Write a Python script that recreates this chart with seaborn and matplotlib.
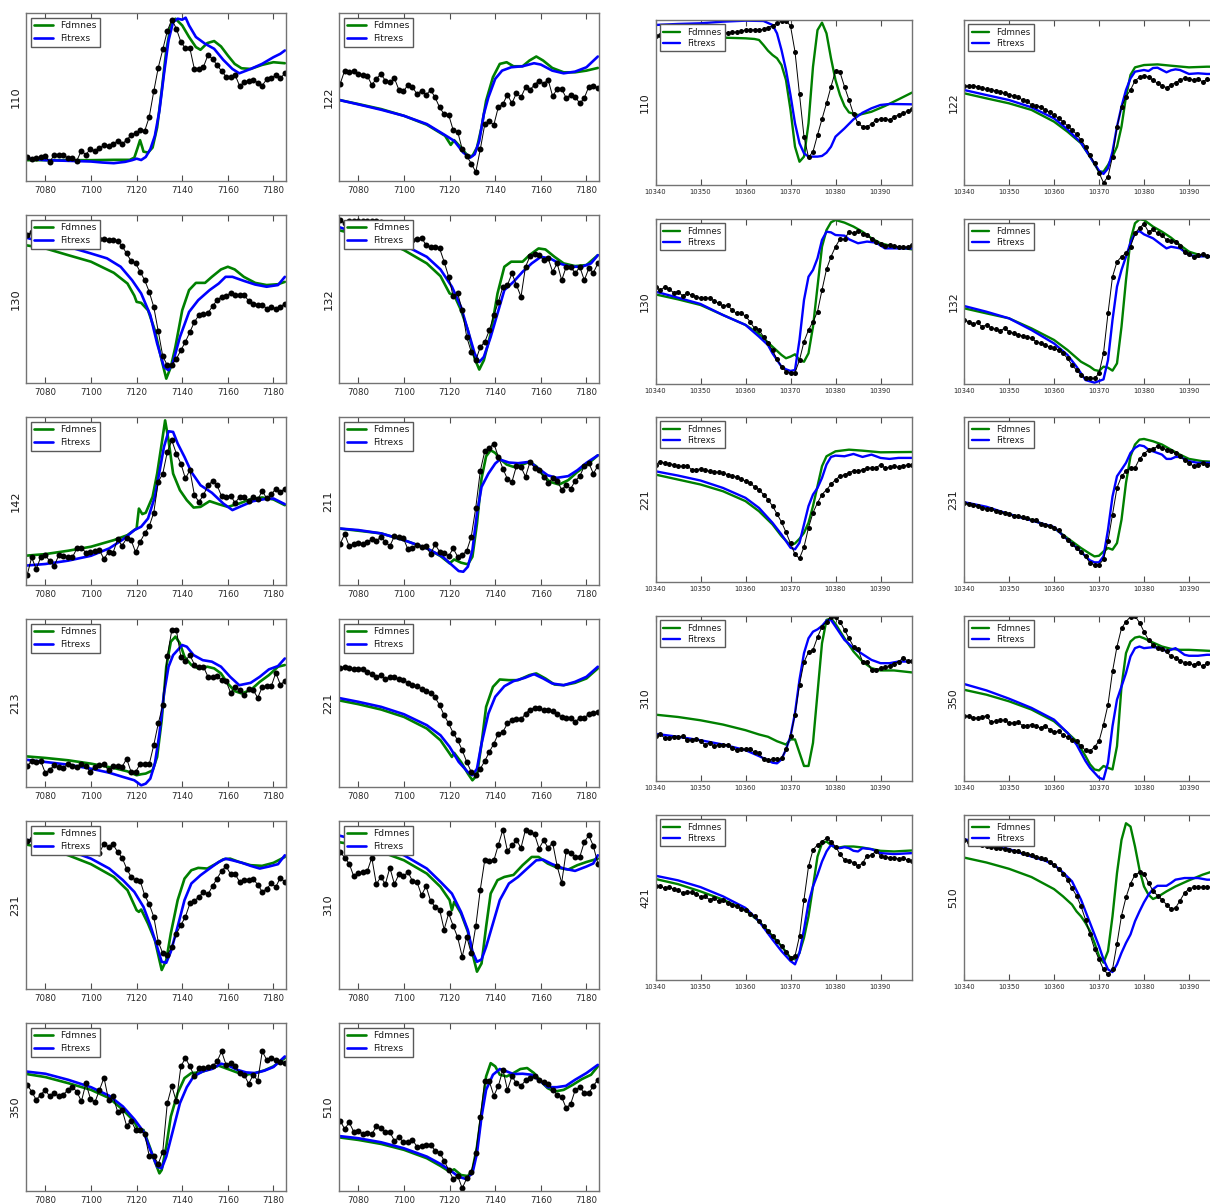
import numpy as np
import matplotlib
matplotlib.use("Agg")
import matplotlib.pyplot as plt
import seaborn as sns

# ---------------------------------------------------------------- data
# y values are in per cent of each panel's height (y axis carries no scale)

# ----- Fe K-edge panels (energy 7072 .. 7185 eV)
L110_EXP = [14.4, 12.8, 13.8, 14.2, 14.8, 11.4, 15.6, 15.6, 15.6, 13.6, 13.8, 12.2, 18.1, 15.6, 19.3, 17.6, 19.5, 21.3, 20.7, 22.3,
            23.7, 22.1, 24.3, 27.4, 28.6, 30.2, 29.8, 38.1, 53.3, 67.5, 78.3, 89.3, 96.1, 90.7, 82.8, 78.9, 78.9, 66.5, 66.7, 68.0,
            75.0, 72.6, 69.0, 65.5, 62.1, 62.1, 63.1, 56.6, 58.8, 59.8, 60.0, 58.6, 56.8, 60.7, 61.1, 63.1, 61.1, 64.1]
L110_FD = [(7071, 12.4), (7080, 12.4), (7100, 12.4), (7110, 12.6), (7117, 12.6), (7119, 13.9), (7120.5, 20), (7121.5, 24.3),
           (7122.5, 20), (7123, 17.5), (7125, 16.9), (7127, 19.9), (7129, 31.9), (7131, 53.8), (7133, 77.7), (7135, 92.6),
           (7137, 96.6), (7140, 92.6), (7143, 85.7), (7146, 79.7), (7148, 78.1), (7151, 82.1), (7154, 83.3), (7157, 80.1),
           (7160, 74.7), (7163, 69.7), (7166, 67.1), (7170, 66.7), (7175, 69.1), (7180, 70.7), (7185, 70.1)]
L110_FX = [(7071, 13.5), (7080, 12.4), (7090, 12.0), (7100, 11.6), (7105, 11.0), (7110, 10.6), (7115, 11.4), (7118, 12.4),
           (7120, 13.3), (7122, 12.5), (7124, 14.3), (7126, 18.9), (7128, 26.9), (7130, 41.8), (7132, 63.7), (7134, 83.7),
           (7136, 94.6), (7138, 96.6), (7140, 96.0), (7141.5, 97.2), (7143, 92.6), (7146, 85.7), (7150, 81.7), (7154, 78.7),
           (7158, 72.1), (7162, 66.7), (7165, 64.1), (7170, 66.7), (7175, 69.7), (7180, 73.7), (7183, 75.7), (7185, 77.7)]

L122_EXP = [57.8, 65.7, 64.7, 65.3, 63.7, 63.1, 62.7, 57.2, 60.8, 63.7, 59.8, 58.8, 61.2, 54.2, 53.4, 57.2, 55.8, 51.8, 53.8, 51.2,
            54.2, 49.8, 43.8, 39.8, 39.4, 30.3, 29.3, 18.9, 14.9, 10.4, 5.4, 18.9, 33.9, 35.5, 33.5, 44.2, 45.8, 51.4, 46.2, 52.4,
            49.8, 55.8, 54.4, 57.2, 59.8, 57.8, 60.4, 50.4, 54.8, 54.8, 49.4, 51.4, 50.2, 46.2, 49.4, 56.2, 56.8, 55.4]
L122_FD = [(7071, 48.4), (7080, 45.8), (7090, 42.8), (7100, 38.8), (7110, 33.5), (7118, 26.9), (7120.5, 21.5), (7122, 24.3),
           (7125, 19.9), (7128, 14.9), (7130, 14.9), (7132, 19.9), (7134, 31.9), (7136, 47.8), (7139, 61.8), (7142, 69.7),
           (7145, 70.7), (7148, 68.3), (7152, 68.3), (7155, 71.7), (7158, 74.1), (7161, 71.7), (7165, 67.3), (7170, 64.7),
           (7175, 64.7), (7180, 65.7), (7185, 67.3)]
L122_FX = [(7071, 48.4), (7080, 45.6), (7090, 42.4), (7100, 38.8), (7110, 33.9), (7118, 27.3), (7122, 23.9), (7126, 16.9),
           (7129, 13.9), (7131, 15.9), (7133, 23.9), (7135, 39.8), (7137, 49.8), (7140, 60.8), (7143, 65.7), (7147, 67.7),
           (7152, 68.3), (7157, 70.1), (7160, 69.3), (7165, 65.7), (7170, 64.1), (7175, 65.1), (7180, 67.7), (7185, 74.1)]

L130_EXP = [88.1, 89.7, 87.1, 85.7, 85.7, 85.7, 85.7, 85.7, 85.7, 85.7, 85.7, 85.7, 85.7, 85.7, 85.7, 85.7, 85.5, 85.5, 85.3, 85.1,
            84.5, 81.5, 77.1, 72.6, 71.2, 66.2, 61.2, 54.3, 45.3, 30.8, 15.9, 10.5, 10.9, 14.3, 19.5, 24.5, 30.4, 36.4, 40.4, 41.0,
            41.7, 45.7, 49.3, 51.3, 51.7, 53.7, 52.3, 52.3, 52.3, 48.9, 47.3, 46.7, 46.7, 44.3, 45.3, 44.3, 45.3, 47.3]
L130_FD = [(7071, 82.1), (7080, 80.1), (7090, 76.1), (7100, 72.2), (7110, 65.6), (7116, 59.2), (7119, 52), (7120, 48.3),
           (7122, 47.7), (7125, 43.3), (7128, 31.4), (7131, 13.5), (7133, 2.6), (7135, 9.5), (7137, 21.5), (7140, 43.3),
           (7143, 55.3), (7146, 59.6), (7150, 59.6), (7153, 63.2), (7157, 67.6), (7160, 69.2), (7163, 67.6), (7167, 63.2),
           (7172, 59.6), (7177, 58.3), (7182, 58.8), (7185, 60.2)]
L130_FX = [(7071, 86.7), (7080, 83.5), (7090, 81.1), (7100, 77.1), (7107, 74.2), (7113, 69.2), (7118, 61.2), (7122, 53.3),
           (7126, 40.4), (7129, 23.5), (7132, 9.5), (7134, 7.6), (7136, 12.5), (7139, 27.4), (7143, 42.3), (7147, 49.3),
           (7152, 55.3), (7156, 59.2), (7159, 63.2), (7162, 63.2), (7167, 60.8), (7172, 58.6), (7177, 57.3), (7182, 58.3),
           (7185, 63.2)]

L132_EXP = [97.0, 95.0, 96.6, 96.4, 96.4, 96.4, 96.4, 96.4, 96.4, 96.0, 95.5, 95.0, 94.0, 92.0, 88.0, 84.7, 85.1, 85.5, 86.5, 82.1,
            81.1, 81.1, 80.1, 72.2, 63.2, 51.7, 53.3, 43.3, 27.4, 18.5, 13.5, 21.5, 24.5, 31.4, 40.4, 48.3, 57.3, 58.3, 65.2, 58.3,
            51.3, 69.2, 75.5, 76.7, 76.1, 73.2, 74.2, 66.2, 71.2, 61.2, 69.2, 69.2, 65.2, 69.2, 61.2, 68.2, 65.6, 71.2]
L132_FD = [(7071, 91.1), (7080, 88.1), (7090, 85.1), (7100, 79.1), (7110, 71.2), (7116, 63.6), (7120, 53.3), (7122, 52.3),
           (7125, 43.3), (7128, 31.4), (7131, 14.5), (7133, 8.0), (7135, 13.5), (7138, 29.4), (7141, 53.3), (7144, 69.2),
           (7147, 72.2), (7152, 72.2), (7155, 76.1), (7159, 80.1), (7162, 79.5), (7166, 75.1), (7170, 71.2), (7175, 69.6),
           (7180, 70.2), (7185, 76.1)]
L132_FX = [(7071, 93.0), (7080, 89.1), (7090, 87.1), (7100, 82.1), (7110, 75.1), (7116, 67.6), (7121, 57.3), (7125, 45.3),
           (7128, 31.4), (7131, 17.5), (7133, 12.5), (7135, 15.5), (7138, 27.4), (7141, 41.4), (7144, 55.3), (7148, 60.2),
           (7152, 66.2), (7156, 71.2), (7160, 75.1), (7164, 74.2), (7168, 71.2), (7173, 69.2), (7178, 69.2), (7182, 71.2),
           (7185, 76.1)]

L142_EXP = [5.9, 16.4, 9.5, 16.4, 17.8, 14.3, 11.5, 17.8, 17.4, 16.4, 16.4, 21.8, 22.2, 19.2, 19.8, 20.4, 20.8, 15.4, 19.8, 19.2,
            27.1, 23.4, 27.7, 26.7, 19.4, 25.7, 30.7, 35.0, 43.0, 61.4, 66.3, 79.2, 86.1, 78.2, 72.3, 63.4, 68.3, 53.5, 49.5, 53.5,
            59.4, 61.8, 59.4, 52.9, 52.5, 53.1, 48.9, 52.5, 52.1, 50.1, 52.5, 50.9, 56.0, 51.5, 53.9, 57.4, 55.4, 57.4]
L142_FD = [(7071, 17.4), (7080, 18.4), (7090, 20.4), (7100, 22.8), (7110, 26.7), (7116, 29.7), (7120, 33.7), (7121, 45.5),
           (7122.5, 42.2), (7124, 43.0), (7127, 52.5), (7129, 66.3), (7131, 84.2), (7132.5, 98.0), (7134, 86.1), (7136, 66.3),
           (7139, 56.4), (7142, 50.5), (7145, 46.1), (7148, 46.5), (7152, 49.9), (7156, 48.1), (7160, 46.5), (7165, 48.5),
           (7170, 51.1), (7175, 52.1), (7180, 50.9), (7185, 47.5)]
L142_FX = [(7071, 11.5), (7080, 12.5), (7090, 14.5), (7100, 17.4), (7108, 21.8), (7114, 27.1), (7119, 32.7), (7122, 34.7),
           (7125, 39.6), (7128, 52.5), (7130, 67.3), (7132, 82.2), (7134, 91.5), (7136, 91.1), (7138, 84.2), (7141, 76.2),
           (7144, 67.3), (7148, 59.4), (7153, 54.9), (7158, 48.5), (7162, 44.6), (7166, 47.0), (7171, 49.9), (7176, 51.1),
           (7180, 51.5), (7185, 48.1)]

L211_EXP = [24.4, 30.3, 23.2, 24.4, 25.2, 24.4, 25.7, 27.1, 26.1, 28.7, 25.7, 23.2, 29.1, 28.7, 27.7, 21.2, 21.8, 23.8, 22.8, 23.2,
            18.4, 24.2, 19.8, 19.2, 17.2, 21.8, 16.8, 17.8, 20.4, 28.7, 46.1, 67.9, 79.8, 81.6, 84.2, 76.2, 69.3, 63.0, 61.4, 70.9,
            70.3, 64.4, 73.3, 69.7, 68.3, 64.4, 61.0, 63.4, 62.0, 56.8, 59.4, 57.4, 62.0, 64.8, 70.7, 72.7, 66.3, 70.9]
L211_FD = [(7071, 33.7), (7080, 32.3), (7090, 30.7), (7100, 26.7), (7110, 21.8), (7116, 17.2), (7120, 12.9), (7122, 15.2),
           (7125, 13.3), (7128, 12.3), (7130, 16.8), (7132, 36.6), (7134, 63.4), (7136, 76.6), (7138, 80.2), (7140, 78.6),
           (7142, 75.2), (7145, 71.7), (7148, 70.3), (7152, 71.7), (7155, 73.3), (7158, 70.7), (7161, 65.3), (7164, 61.4),
           (7168, 59.8), (7172, 62.4), (7176, 67.3), (7180, 71.3), (7185, 77.2)]
L211_FX = [(7071, 33.7), (7080, 32.7), (7090, 30.7), (7100, 26.7), (7110, 21.8), (7117, 16.8), (7121, 11.9), (7124, 8.3),
           (7126, 7.9), (7128, 10.9), (7130, 20.8), (7132, 42.6), (7134, 58.4), (7137, 66.3), (7140, 72.3), (7142, 74.7),
           (7146, 72.9), (7150, 72.5), (7155, 73.3), (7159, 69.3), (7163, 65.3), (7167, 63.8), (7172, 64.8), (7176, 68.3),
           (7180, 72.7), (7185, 77.2)]

L213_EXP = [12.5, 15.5, 14.9, 15.5, 8.5, 10.3, 12.9, 11.9, 11.5, 13.5, 12.5, 11.9, 13.9, 12.5, 8.9, 11.9, 12.9, 13.5, 9.9, 12.3,
            12.3, 11.9, 16.9, 8.9, 8.9, 13.9, 13.9, 13.5, 24.9, 37.8, 48.7, 77.9, 93.4, 93.4, 77.5, 75.1, 78.5, 72.9, 71.6, 71.6,
            65.6, 65.6, 66.2, 63.6, 63.0, 56.1, 59.6, 57.7, 54.7, 58.1, 57.7, 53.1, 59.6, 60.0, 60.0, 68.0, 61.0, 63.0]
L213_FD = [(7071, 18.3), (7080, 17.3), (7090, 15.9), (7100, 13.9), (7110, 11.3), (7116, 9.3), (7120, 7.0), (7122, 7.6),
           (7124, 8.0), (7127, 9.9), (7129, 17.9), (7131, 39.8), (7133, 71.6), (7135, 86.5), (7137, 89.5), (7139, 85.5),
           (7141, 77.5), (7144, 72.6), (7147, 70.6), (7151, 71.6), (7154, 70.6), (7157, 67.6), (7160, 61.6), (7163, 57.1),
           (7166, 55.7), (7170, 57.7), (7174, 62.6), (7178, 66.6), (7182, 71.6), (7185, 72.6)]
L213_FX = [(7071, 16.3), (7080, 14.9), (7090, 13.3), (7100, 10.9), (7108, 8.5), (7114, 6.0), (7119, 4.0), (7122, 1.0),
           (7124, 2.0), (7126, 5.0), (7128, 13.9), (7130, 31.8), (7132, 55.7), (7134, 71.6), (7136, 78.5), (7138, 81.5),
           (7140, 84.5), (7142, 83.5), (7145, 78.5), (7149, 75.5), (7153, 74.6), (7157, 71.6), (7161, 65.6), (7165, 60.6),
           (7170, 62.0), (7174, 65.6), (7178, 70.0), (7182, 72.0), (7185, 76.5)]

L221_EXP = [70.6, 71.6, 70.6, 70.0, 70.0, 70.0, 68.6, 67.0, 65.6, 66.6, 64.0, 65.6, 65.6, 64.0, 63.6, 62.0, 60.6, 60.0, 58.6, 57.3,
            55.7, 53.3, 48.7, 42.7, 37.8, 32.2, 27.8, 21.9, 14.9, 8.9, 7.0, 10.9, 15.5, 20.9, 25.8, 31.8, 32.8, 37.8, 39.8, 40.2,
            40.2, 43.7, 46.1, 47.3, 47.3, 45.7, 46.1, 45.3, 43.7, 41.7, 40.8, 40.8, 38.8, 41.2, 40.8, 43.7, 44.3, 44.7]
L221_FD = [(7071, 51.7), (7080, 49.3), (7090, 46.1), (7100, 41.7), (7110, 34.8), (7116, 27.8), (7120, 19.9), (7121, 17.9),
           (7122, 20.3), (7125, 14.9), (7128, 8.0), (7130, 4.0), (7132, 7.0), (7134, 25.8), (7136, 47.7), (7139, 59.6),
           (7142, 64.0), (7146, 63.6), (7150, 63.6), (7155, 66.6), (7158, 67.6), (7162, 64.6), (7166, 61.0), (7170, 60.6),
           (7175, 62.0), (7180, 64.6), (7185, 70.6)]
L221_FX = [(7071, 53.1), (7080, 50.7), (7090, 47.7), (7100, 43.3), (7110, 36.8), (7116, 30.8), (7120, 23.9), (7124, 14.9),
           (7128, 8.9), (7130, 7.0), (7132, 10.9), (7134, 25.8), (7137, 43.7), (7140, 53.7), (7144, 60.0), (7148, 63.0),
           (7153, 65.0), (7157, 67.2), (7161, 64.6), (7165, 61.6), (7170, 60.6), (7175, 62.6), (7180, 65.6), (7185, 71.6)]

L231_EXP = [87.9, 89.1, 86.5, 85.5, 86.5, 86.0, 86.0, 85.5, 85.5, 85.0, 85.0, 85.0, 84.5, 84.0, 83.0, 82.0, 81.2, 86.5, 84.6, 86.1,
            81.6, 78.2, 71.7, 66.7, 64.8, 64.4, 55.8, 50.5, 43.0, 28.1, 21.2, 20.2, 25.1, 32.7, 38.0, 43.0, 50.9, 52.5, 54.9, 57.8,
            56.4, 61.2, 65.7, 70.3, 73.1, 68.3, 68.3, 63.8, 65.1, 64.8, 65.3, 62.2, 57.8, 59.8, 62.8, 60.8, 66.3, 63.8]
L231_FD = [(7071, 86.1), (7080, 84.0), (7090, 79.6), (7100, 74.3), (7110, 66.7), (7116, 58.8), (7120, 46.9), (7121, 45.9),
           (7122, 47.3), (7125, 38.9), (7128, 29.1), (7130, 17.2), (7131, 11.3), (7133, 17.2), (7135, 33.1), (7138, 52.9),
           (7141, 65.7), (7144, 70.7), (7147, 72.1), (7151, 71.7), (7155, 74.7), (7158, 77.2), (7161, 77.6), (7165, 75.6),
           (7170, 73.7), (7175, 73.3), (7180, 75.1), (7185, 78.6)]
L231_FX = [(7071, 88.9), (7080, 86.5), (7090, 82.6), (7100, 77.6), (7108, 71.7), (7114, 64.8), (7119, 57.8), (7123, 48.9),
           (7126, 38.0), (7129, 25.1), (7131, 16.2), (7133, 15.6), (7135, 22.2), (7138, 37.2), (7141, 52.9), (7144, 62.8),
           (7148, 67.7), (7152, 71.7), (7156, 75.6), (7159, 77.6), (7162, 76.6), (7166, 75.2), (7170, 73.3), (7174, 71.7),
           (7178, 72.9), (7182, 74.3), (7185, 79.6)]

L310_EXP = [81.6, 78.2, 74.7, 67.1, 69.1, 69.7, 70.1, 78.2, 62.4, 66.7, 62.4, 72.3, 62.4, 68.3, 67.1, 69.7, 64.2, 63.8, 55.8, 61.2,
            52.5, 48.9, 47.3, 35.4, 45.0, 37.6, 30.7, 19.2, 31.1, 21.2, 37.4, 59.2, 77.0, 76.2, 76.6, 85.9, 94.9, 82.2, 85.5, 88.5,
            84.0, 94.9, 93.5, 92.1, 83.6, 88.5, 84.0, 87.1, 73.1, 63.2, 82.2, 81.2, 78.6, 78.6, 87.5, 91.5, 85.1, 74.7]
L310_FD = [(7071, 87.5), (7080, 85.5), (7090, 81.6), (7100, 76.6), (7110, 68.7), (7116, 60.8), (7120, 52.9), (7121, 46.9),
           (7122, 51.9), (7125, 45.0), (7128, 34.1), (7130, 21.2), (7132, 10.3), (7134, 15.2), (7136, 37.0), (7138, 56.8),
           (7141, 64.8), (7144, 66.7), (7148, 67.9), (7152, 73.7), (7156, 78.6), (7159, 78.6), (7163, 74.7), (7167, 72.3),
           (7172, 71.1), (7176, 73.7), (7180, 75.6), (7185, 77.6)]
L310_FX = [(7071, 91.5), (7080, 88.5), (7090, 84.6), (7100, 79.6), (7110, 71.7), (7116, 63.8), (7121, 56.8), (7125, 45.9),
           (7128, 35.1), (7130, 22.4), (7132, 16.2), (7134, 17.6), (7136, 25.1), (7139, 39.0), (7142, 52.9), (7146, 62.8),
           (7150, 66.7), (7154, 71.7), (7158, 76.6), (7161, 77.0), (7165, 74.3), (7170, 71.7), (7175, 70.3), (7180, 72.9),
           (7183, 74.7), (7185, 79.6)]

L350_EXP = [63.2, 59.2, 54.3, 57.3, 60.2, 56.3, 58.3, 56.3, 57.3, 60.2, 61.8, 59.2, 53.3, 64.2, 54.9, 52.9, 60.2, 67.4, 54.3, 56.3,
            47.3, 48.3, 38.8, 41.9, 36.4, 36.4, 33.8, 20.9, 20.9, 16.1, 23.5, 52.3, 62.4, 53.3, 74.2, 79.1, 74.2, 68.2, 73.2, 73.2,
            73.6, 74.2, 77.1, 83.1, 75.1, 76.1, 74.2, 70.2, 69.2, 63.8, 69.2, 65.6, 83.1, 78.1, 79.1, 78.1, 76.5, 76.1]
L350_FD = [(7071, 69.8), (7080, 67.8), (7090, 64.2), (7100, 60.2), (7108, 55.3), (7114, 48.3), (7119, 41.4), (7121, 35.4),
           (7123, 36.4), (7126, 25.4), (7128, 17.5), (7130, 10.5), (7131, 12.5), (7133, 26.4), (7135, 44.3), (7138, 58.3),
           (7141, 67.2), (7144, 70.2), (7148, 70.6), (7152, 72.6), (7156, 74.6), (7160, 72.6), (7164, 70.6), (7168, 69.2),
           (7172, 70.2), (7176, 71.8), (7180, 74.2), (7185, 79.1)]
L350_FX = [(7071, 71.2), (7080, 69.8), (7090, 66.2), (7100, 61.8), (7108, 56.7), (7114, 50.3), (7119, 42.7), (7123, 35.4),
           (7126, 24.5), (7129, 14.5), (7131, 13.5), (7133, 20.5), (7136, 36.4), (7139, 52.3), (7142, 61.8), (7145, 68.2),
           (7149, 71.2), (7153, 72.6), (7157, 75.8), (7160, 74.8), (7164, 72.2), (7168, 70.6), (7172, 70.2), (7176, 71.6),
           (7180, 73.8), (7185, 80.1)]

L510_EXP = [41.9, 36.9, 40.8, 35.4, 35.8, 34.0, 34.4, 33.8, 38.4, 37.4, 35.0, 35.0, 30.0, 32.0, 29.0, 29.4, 30.4, 26.4, 26.8, 27.4,
            27.4, 24.1, 22.9, 18.1, 12.5, 7.2, 9.1, 1.6, 7.6, 11.5, 22.5, 44.3, 65.2, 65.2, 56.7, 62.6, 72.2, 60.2, 68.2, 64.2,
            62.6, 65.8, 67.2, 68.2, 66.2, 64.8, 63.8, 60.2, 57.3, 55.9, 49.3, 51.9, 60.2, 61.8, 58.3, 58.3, 62.6, 66.2]
L510_FD = [(7071, 32.0), (7080, 30.4), (7090, 28.0), (7100, 24.5), (7110, 19.5), (7116, 14.9), (7120, 11.5), (7122, 12.9),
           (7125, 9.5), (7128, 8.9), (7130, 12.5), (7132, 26.4), (7134, 46.3), (7136, 68.2), (7138, 76.1), (7140, 74.2),
           (7142, 69.2), (7145, 68.2), (7148, 70.2), (7151, 72.6), (7154, 73.2), (7157, 70.2), (7160, 65.2), (7163, 61.2),
           (7166, 59.2), (7170, 60.2), (7174, 63.2), (7178, 66.6), (7182, 69.2), (7185, 74.2)]
L510_FX = [(7071, 32.8), (7080, 31.4), (7090, 29.0), (7100, 25.4), (7110, 20.5), (7116, 16.1), (7120, 12.5), (7124, 8.5),
           (7127, 7.2), (7130, 10.5), (7132, 22.5), (7134, 44.3), (7136, 60.2), (7139, 69.2), (7142, 72.6), (7145, 71.2),
           (7148, 69.6), (7152, 69.8), (7156, 69.2), (7160, 65.2), (7163, 61.8), (7167, 61.8), (7171, 62.6), (7175, 66.2),
           (7180, 70.2), (7185, 75.1)]

# ----- second edge panels (energy 10340 .. 10397 eV)
R110_EXP = [90.3, 90.9, 91.0, 91.1, 91.2, 91.3, 91.4, 91.5, 91.6, 91.7, 91.8, 91.9, 92.0, 92.0, 92.1, 92.2, 92.3, 92.5, 92.7, 93.3,
            93.9, 93.9, 94.1, 94.1, 94.3, 95.4, 96.6, 98.0, 99.4, 99.6, 96.4, 80.8, 54.9, 29.3, 16.8, 20.2, 30.3, 40.0, 49.5, 59.6,
            69.1, 68.3, 59.6, 51.5, 43.0, 37.4, 35.4, 35.4, 37.0, 39.4, 40.0, 40.0, 39.4, 41.4, 42.4, 43.4, 44.8, 45.9]
R110_FD = [(10340, 90.3), (10345, 89.9), (10350, 89.5), (10355, 89.3), (10360, 88.9), (10362, 88.5), (10363, 87.9),
           (10364, 84.8), (10365, 81.4), (10366, 78.8), (10367, 76.8), (10368, 72.7), (10369, 63.6), (10370, 45.5),
           (10371, 23.2), (10372, 14.1), (10373, 17.2), (10374, 37.4), (10375, 71.7), (10376, 93.9), (10377, 98.4),
           (10378, 91.9), (10379, 76.8), (10380, 63.6), (10381, 54.5), (10382, 47.9), (10383, 44.0), (10385, 42.4),
           (10388, 44.4), (10391, 47.9), (10394, 51.9), (10397, 56.0)]
R110_FX = [(10340, 97.0), (10345, 97.6), (10350, 98.0), (10355, 99.0), (10360, 99.6), (10364, 99.4), (10366, 97.0),
           (10367, 91.9), (10368, 81.8), (10369, 69.7), (10370, 54.5), (10371, 37.4), (10372, 25.3), (10373, 19.2),
           (10374, 17.2), (10376, 17.2), (10377, 17.6), (10378, 19.6), (10379, 23.2), (10380, 29.3), (10382, 34.3),
           (10384, 39.8), (10386, 43.8), (10388, 46.5), (10390, 48.5), (10392, 49.1), (10397, 48.9)]

R122_EXP = [60.0, 60.0, 60.0, 59.6, 58.6, 58.0, 57.6, 57.2, 56.6, 55.6, 54.5, 54.1, 53.5, 51.5, 50.9, 48.5, 47.9, 47.5, 45.5, 44.0,
            42.4, 40.4, 38.4, 35.8, 33.3, 30.9, 27.3, 23.2, 18.2, 13.1, 7.5, 1.4, 5.1, 17.2, 35.4, 47.1, 53.5, 57.6, 63.2, 65.3,
            66.3, 65.3, 63.6, 61.6, 60.2, 59.0, 60.6, 62.0, 63.6, 64.8, 64.4, 63.6, 64.2, 62.6, 64.0, 63.0, 64.6, 64.0]
R122_FD = [(10340, 55.6), (10345, 52.5), (10350, 49.5), (10355, 45.5), (10360, 38.4), (10363, 32.3), (10366, 25.3),
           (10368, 17.2), (10370, 8.1), (10371, 8.1), (10372, 12.1), (10373, 17.2), (10374, 23.2), (10375, 35.4),
           (10376, 53.5), (10377, 66.7), (10378, 71.3), (10380, 72.7), (10383, 73.1), (10386, 72.3), (10390, 71.3),
           (10394, 71.7), (10397, 71.7)]
R122_FX = [(10340, 57.6), (10345, 54.5), (10350, 51.5), (10355, 47.1), (10360, 40.4), (10363, 33.7), (10366, 25.7),
           (10368, 17.2), (10370, 8.7), (10371, 6.7), (10372, 10.1), (10373, 20.2), (10374, 35.4), (10375, 47.5),
           (10376, 57.6), (10377, 64.6), (10378, 68.7), (10380, 69.7), (10381, 69.1), (10382, 70.9), (10383, 71.1),
           (10384, 69.7), (10385, 68.3), (10386, 69.5), (10387, 70.1), (10388, 69.7), (10389, 68.5), (10390, 67.3),
           (10392, 67.7), (10394, 67.3), (10397, 67.3)]

R130_EXP = [58.6, 57.0, 58.6, 57.6, 55.4, 56.0, 53.5, 55.0, 54.0, 53.0, 52.0, 52.3, 52.0, 50.5, 48.9, 47.3, 47.9, 44.8, 42.8, 42.8,
            41.2, 37.8, 33.7, 32.7, 28.7, 24.6, 20.6, 14.9, 10.5, 7.5, 6.9, 6.9, 14.5, 25.7, 32.7, 37.8, 43.8, 57.0, 69.5, 77.2,
            83.2, 87.9, 87.7, 92.3, 91.3, 92.7, 90.9, 90.3, 87.9, 86.3, 84.6, 83.6, 84.2, 83.8, 83.2, 82.8, 83.2, 84.0]
R130_FD = [(10340, 54.3), (10345, 51.3), (10350, 47.9), (10355, 41.8), (10360, 35.8), (10363, 30.3), (10366, 22.6),
           (10368, 17.6), (10369, 15.6), (10370, 16.6), (10371, 18.0), (10372, 14.5), (10373, 13.5), (10374, 18.6),
           (10375, 34.7), (10376, 59.0), (10377, 83.2), (10378, 93.3), (10379, 98.0), (10380, 99.4), (10382, 97.8),
           (10384, 95.4), (10386, 92.3), (10388, 88.3), (10390, 85.3), (10393, 83.2), (10397, 81.6)]
R130_FX = [(10340, 56.0), (10345, 52.3), (10350, 48.5), (10355, 41.8), (10360, 35.8), (10363, 28.7), (10365, 23.6),
           (10366, 18.6), (10368, 10.5), (10369, 8.9), (10370, 7.9), (10371, 8.5), (10372, 26.7), (10373, 50.9),
           (10374, 65.0), (10375, 69.1), (10376, 76.2), (10377, 87.3), (10378, 92.3), (10379, 91.9), (10380, 90.3),
           (10382, 89.9), (10383, 87.7), (10385, 85.3), (10387, 86.3), (10389, 85.7), (10391, 82.2), (10394, 82.2),
           (10397, 82.2)]

R132_EXP = [38.8, 37.8, 36.4, 37.4, 34.7, 35.8, 34.1, 33.1, 32.3, 33.7, 31.7, 30.7, 29.7, 29.1, 28.7, 27.7, 25.7, 24.6, 23.6, 22.6,
            21.6, 20.6, 18.6, 15.6, 11.5, 8.5, 5.5, 3.4, 3.4, 3.4, 6.5, 18.6, 42.8, 65.0, 74.1, 77.2, 79.2, 83.2, 91.3, 94.7,
            97.0, 92.3, 93.7, 91.3, 90.3, 87.3, 86.9, 86.3, 83.6, 80.2, 78.6, 77.2, 78.0, 78.6, 77.6, 77.2, 76.8, 76.8]
R132_FD = [(10340, 45.9), (10345, 42.8), (10350, 39.8), (10355, 33.7), (10360, 26.7), (10363, 20.6), (10366, 13.5),
           (10368, 10.5), (10369, 8.5), (10370, 7.9), (10371, 10.5), (10372, 9.9), (10373, 8.1), (10374, 12.5),
           (10375, 34.7), (10376, 63.0), (10377, 87.3), (10378, 97.4), (10379, 99.8), (10380, 99.4), (10382, 95.4),
           (10384, 92.3), (10386, 88.7), (10388, 84.2), (10390, 80.2), (10393, 77.6), (10397, 76.2)]
R132_FX = [(10340, 47.3), (10345, 43.8), (10350, 39.8), (10355, 32.7), (10360, 24.6), (10363, 17.6), (10365, 10.5),
           (10366, 6.5), (10367, 2.4), (10369, 0.8), (10371, 2.8), (10372, 14.5), (10373, 38.8), (10374, 59.0),
           (10375, 69.1), (10376, 77.2), (10377, 85.7), (10378, 91.3), (10379, 92.7), (10380, 90.7), (10382, 88.3),
           (10384, 84.2), (10385, 82.2), (10386, 83.2), (10388, 82.2), (10390, 78.2), (10392, 77.2), (10394, 77.6),
           (10397, 76.8)]

R221_EXP = [71.2, 72.8, 72.2, 71.6, 71.2, 70.2, 70.2, 70.6, 68.1, 68.1, 68.5, 67.7, 67.1, 66.9, 66.5, 66.1, 65.1, 64.5, 63.5, 62.5,
            61.1, 60.1, 57.7, 56.0, 53.0, 50.0, 46.0, 41.3, 36.3, 30.2, 23.4, 16.7, 14.3, 21.2, 32.9, 42.0, 48.0, 53.0, 56.0, 59.1,
            62.1, 64.1, 65.1, 66.1, 67.5, 67.1, 68.1, 69.1, 69.1, 69.1, 71.2, 69.1, 69.5, 70.2, 69.5, 70.6, 70.8, 71.0]
R221_FD = [(10340, 65.1), (10345, 62.1), (10350, 59.1), (10355, 55.0), (10360, 49.0), (10363, 42.9), (10366, 34.9),
           (10368, 27.8), (10370, 22.2), (10371, 23.4), (10372, 26.2), (10373, 29.8), (10374, 35.9), (10375, 46.0),
           (10376, 58.1), (10377, 70.2), (10378, 76.2), (10380, 79.2), (10383, 80.2), (10386, 79.6), (10390, 78.6),
           (10397, 78.8)]
R221_FX = [(10340, 67.1), (10345, 64.5), (10350, 61.5), (10355, 57.0), (10360, 51.0), (10363, 44.9), (10366, 35.9),
           (10368, 28.8), (10370, 20.8), (10371, 19.8), (10372, 23.8), (10373, 34.9), (10374, 46.0), (10375, 53.0),
           (10376, 57.0), (10377, 63.1), (10378, 71.2), (10379, 75.8), (10380, 76.6), (10382, 76.2), (10384, 77.6),
           (10386, 75.8), (10388, 77.2), (10390, 75.2), (10392, 74.6), (10394, 75.2), (10397, 75.2)]

R231_EXP = [48.0, 47.4, 46.4, 46.0, 45.0, 44.0, 44.4, 43.1, 42.7, 41.7, 41.1, 40.1, 39.7, 39.1, 38.7, 37.7, 37.3, 35.3, 34.7, 34.1,
            32.7, 31.3, 28.1, 25.6, 23.0, 20.6, 18.0, 15.5, 11.5, 10.5, 10.5, 13.7, 24.8, 40.9, 57.1, 64.1, 67.1, 69.2, 69.2, 74.6,
            77.6, 80.2, 80.6, 82.3, 81.3, 80.2, 79.2, 78.2, 76.2, 74.2, 72.2, 70.2, 71.2, 72.2, 71.2, 71.8, 71.2, 71.2]
R231_FD = [(10340, 48.0), (10345, 45.0), (10350, 41.1), (10355, 37.7), (10360, 32.7), (10363, 26.6), (10366, 20.6),
           (10368, 17.1), (10369, 15.5), (10370, 15.9), (10371, 18.5), (10372, 20.6), (10373, 19.6), (10374, 23.6),
           (10375, 37.7), (10376, 60.1), (10377, 76.2), (10378, 83.3), (10379, 86.3), (10380, 86.7), (10382, 85.3),
           (10384, 83.3), (10386, 80.2), (10388, 77.2), (10390, 74.6), (10393, 73.2), (10397, 72.6)]
R231_FX = [(10340, 48.4), (10345, 45.6), (10350, 41.1), (10355, 37.3), (10360, 33.3), (10363, 25.6), (10366, 18.5),
           (10367, 15.5), (10368, 13.1), (10369, 11.9), (10370, 11.9), (10371, 15.5), (10372, 31.7), (10373, 51.8),
           (10374, 64.1), (10375, 68.1), (10376, 72.2), (10377, 78.2), (10378, 81.3), (10379, 82.9), (10380, 82.3),
           (10381, 80.2), (10382, 79.2), (10384, 77.2), (10385, 74.6), (10386, 74.6), (10387, 75.8), (10388, 75.8),
           (10390, 73.2), (10392, 72.2), (10397, 72.2)]

R310_EXP = [27.2, 28.2, 26.2, 26.2, 26.8, 26.8, 27.2, 24.7, 24.7, 25.2, 24.1, 22.1, 23.1, 21.1, 22.1, 22.1, 22.1, 19.7, 18.7, 19.1,
            19.5, 19.5, 17.5, 16.7, 13.1, 12.7, 13.1, 13.1, 13.7, 19.1, 27.2, 40.2, 58.4, 72.0, 78.1, 79.5, 87.1, 93.6, 96.6, 99.6,
            99.2, 96.6, 91.5, 86.5, 81.5, 79.9, 72.4, 72.4, 67.4, 67.4, 68.4, 69.0, 70.0, 71.0, 72.4, 74.4, 73.0, 73.0]
R310_FD = [(10340, 40.2), (10345, 38.8), (10350, 36.8), (10355, 34.2), (10360, 30.8), (10363, 28.2), (10365, 26.8),
           (10367, 24.1), (10368, 23.1), (10369, 22.1), (10370, 25.2), (10371, 25.2), (10372, 17.1), (10373, 9.1),
           (10374, 9.1), (10375, 23.1), (10376, 53.3), (10377, 83.5), (10378, 97.6), (10379, 98.6), (10380, 95.2),
           (10382, 86.5), (10384, 78.5), (10386, 72.4), (10388, 68.4), (10390, 67.0), (10393, 67.0), (10397, 65.8)]
R310_FX = [(10340, 28.6), (10345, 26.8), (10350, 24.7), (10355, 22.1), (10360, 18.7), (10363, 15.1), (10365, 12.5),
           (10366, 11.1), (10367, 10.7), (10368, 13.1), (10369, 19.1), (10370, 27.2), (10371, 41.2), (10372, 61.4),
           (10373, 77.5), (10374, 86.5), (10375, 90.5), (10376, 91.9), (10377, 94.0), (10378, 97.2), (10379, 97.6),
           (10380, 93.6), (10382, 85.5), (10384, 80.5), (10386, 76.9), (10388, 73.4), (10390, 71.4), (10392, 71.4),
           (10394, 72.4), (10397, 72.4)]

R350_EXP = [39.6, 39.2, 38.2, 38.2, 38.8, 39.6, 35.6, 36.2, 36.8, 36.8, 35.2, 35.2, 35.6, 33.6, 33.6, 34.2, 33.2, 32.2, 33.6, 31.2,
            29.6, 30.2, 27.6, 26.8, 24.7, 24.1, 21.5, 18.5, 18.1, 20.7, 24.1, 34.2, 46.3, 66.4, 81.5, 92.6, 96.6, 99.6, 100.0, 96.0,
            90.5, 85.5, 82.5, 80.9, 79.9, 78.5, 75.5, 74.8, 73.0, 71.8, 71.4, 70.4, 71.8, 69.4, 71.4, 72.4, 73.4, 73.4]
R350_FD = [(10340, 55.3), (10345, 52.3), (10350, 48.3), (10355, 43.3), (10360, 36.2), (10363, 29.2), (10365, 24.1),
           (10367, 15.1), (10368, 10.1), (10369, 7.0), (10370, 6.4), (10371, 9.1), (10372, 8.0), (10373, 7.0),
           (10374, 21.1), (10375, 57.3), (10376, 77.5), (10377, 84.5), (10378, 86.9), (10379, 87.5), (10380, 86.5),
           (10382, 83.9), (10384, 81.5), (10386, 80.1), (10388, 79.5), (10390, 79.5), (10393, 79.1), (10397, 78.5)]
R350_FX = [(10340, 58.8), (10345, 54.9), (10350, 49.9), (10355, 44.3), (10360, 37.2), (10363, 29.2), (10365, 22.1),
           (10366, 17.1), (10367, 12.1), (10368, 8.0), (10369, 5.0), (10370, 2.0), (10371, 1.0), (10372, 11.1),
           (10373, 33.2), (10374, 49.3), (10375, 57.3), (10376, 65.4), (10377, 75.5), (10378, 80.5), (10379, 81.5),
           (10380, 80.5), (10382, 81.1), (10384, 80.5), (10385, 78.5), (10386, 79.5), (10387, 80.5), (10388, 78.5),
           (10389, 76.5), (10390, 75.9), (10392, 75.9), (10394, 76.5), (10397, 76.5)]

R421_EXP = [56.7, 56.7, 55.7, 56.1, 55.3, 54.7, 52.7, 53.1, 53.1, 52.3, 50.3, 50.7, 48.7, 49.7, 47.7, 48.3, 46.7, 45.7, 44.7, 43.3,
            42.3, 40.2, 38.6, 35.6, 32.6, 29.6, 26.6, 23.5, 20.5, 16.9, 13.5, 14.5, 26.6, 48.7, 68.8, 78.9, 81.9, 83.9, 85.9, 83.9,
            80.9, 76.3, 72.8, 72.2, 71.2, 69.2, 70.8, 75.3, 75.5, 78.3, 75.3, 74.8, 74.2, 74.2, 73.2, 73.8, 72.8, 72.4]
R421_FD = [(10340, 61.2), (10345, 58.1), (10350, 53.7), (10355, 48.7), (10360, 42.3), (10363, 35.6), (10366, 26.6),
           (10368, 20.5), (10370, 13.5), (10371, 12.5), (10372, 16.5), (10373, 25.6), (10374, 38.6), (10375, 56.7),
           (10376, 74.8), (10377, 82.9), (10378, 83.9), (10379, 81.9), (10380, 79.9), (10382, 80.9), (10384, 80.9),
           (10386, 80.3), (10388, 79.3), (10390, 78.3), (10393, 77.9), (10397, 78.5)]
R421_FX = [(10340, 63.2), (10345, 60.4), (10350, 56.3), (10355, 50.7), (10360, 43.7), (10363, 35.6), (10366, 24.5),
           (10368, 17.5), (10370, 11.5), (10371, 9.5), (10372, 16.5), (10373, 30.6), (10374, 46.7), (10375, 56.7),
           (10376, 63.8), (10377, 71.8), (10378, 77.9), (10379, 81.9), (10380, 80.3), (10381, 79.9), (10382, 80.5),
           (10383, 79.9), (10384, 78.3), (10385, 77.9), (10386, 79.9), (10388, 79.3), (10390, 76.9), (10393, 76.3),
           (10397, 76.9)]

R510_EXP = [84.9, 83.9, 82.9, 82.5, 81.9, 81.3, 80.9, 80.3, 79.9, 79.5, 78.9, 78.3, 77.9, 76.9, 76.3, 75.9, 74.8, 74.2, 73.2, 71.8,
            69.8, 67.2, 64.4, 60.8, 55.7, 51.1, 44.7, 36.6, 27.6, 18.9, 12.5, 6.4, 3.4, 6.4, 22.1, 39.0, 50.1, 58.4, 63.8, 65.2,
            64.4, 58.8, 54.1, 51.1, 48.7, 45.7, 43.1, 43.7, 48.1, 52.7, 55.3, 56.1, 56.1, 56.3, 56.3, 56.3, 56.3, 56.3]
R510_FD = [(10340, 74.2), (10345, 71.2), (10350, 67.4), (10355, 62.4), (10360, 55.1), (10362, 50.7), (10364, 45.7),
           (10365, 41.6), (10366, 38.6), (10367, 34.6), (10368, 29.6), (10369, 22.5), (10370, 14.5), (10371, 10.5),
           (10372, 17.5), (10373, 38.6), (10374, 64.8), (10375, 84.9), (10376, 95.0), (10377, 93.0), (10378, 80.9),
           (10379, 66.8), (10380, 56.7), (10381, 51.7), (10382, 49.1), (10383, 50.3), (10385, 53.7), (10387, 56.7),
           (10390, 60.4), (10393, 63.8), (10397, 67.4)]
R510_FX = [(10340, 85.3), (10345, 82.9), (10350, 79.3), (10355, 74.8), (10358, 72.4), (10360, 69.8), (10362, 65.2),
           (10364, 59.8), (10366, 48.7), (10368, 34.6), (10370, 20.5), (10371, 12.5), (10372, 6.4), (10373, 4.8),
           (10374, 9.5), (10375, 16.5), (10376, 22.5), (10377, 27.6), (10378, 35.6), (10379, 41.6), (10380, 47.1),
           (10381, 51.7), (10382, 55.1), (10383, 57.1), (10385, 57.1), (10386, 58.8), (10387, 60.8), (10389, 61.8),
           (10392, 61.8), (10394, 60.8), (10397, 60.8)]

LEFT_LABELS = ["110", "122", "130", "132", "142", "211", "213", "221", "231", "310", "350", "510"]
LEFT_DATA = [(L110_EXP, L110_FD, L110_FX), (L122_EXP, L122_FD, L122_FX), (L130_EXP, L130_FD, L130_FX),
             (L132_EXP, L132_FD, L132_FX), (L142_EXP, L142_FD, L142_FX), (L211_EXP, L211_FD, L211_FX),
             (L213_EXP, L213_FD, L213_FX), (L221_EXP, L221_FD, L221_FX), (L231_EXP, L231_FD, L231_FX),
             (L310_EXP, L310_FD, L310_FX), (L350_EXP, L350_FD, L350_FX), (L510_EXP, L510_FD, L510_FX)]
RIGHT_LABELS = ["110", "122", "130", "132", "221", "231", "310", "350", "421", "510"]
RIGHT_DATA = [(R110_EXP, R110_FD, R110_FX), (R122_EXP, R122_FD, R122_FX), (R130_EXP, R130_FD, R130_FX),
              (R132_EXP, R132_FD, R132_FX), (R221_EXP, R221_FD, R221_FX), (R231_EXP, R231_FD, R231_FX),
              (R310_EXP, R310_FD, R310_FX), (R350_EXP, R350_FD, R350_FX), (R421_EXP, R421_FD, R421_FX),
              (R510_EXP, R510_FD, R510_FX)]

LEFT_XTICKS = [7080, 7100, 7120, 7140, 7160, 7180]
RIGHT_XTICKS = [10340, 10350, 10360, 10370, 10380, 10390]

# ---------------------------------------------------------------- style / layout
sns.set_style("white")
plt.rcParams["font.family"] = ["DejaVu Sans"]

W, H = 1210, 1203
fig = plt.figure(figsize=(W / 100, H / 100), dpi=100)
fig.patch.set_facecolor("white")

GREEN = (0.0, 0.5, 0.0)
BLUE = (0.0, 0.0, 1.0)

STYLE = {
    "L": dict(lw=1.9, ms=4.3, tick=6.2, ylab=8.2, leg=6.6, lsp=0.45, pad=3.5, xlim=(7071.5, 7185.5),
              grid=(7072, 7185), ticks=LEFT_XTICKS),
    "R": dict(lw=1.7, ms=3.6, tick=4.9, ylab=7.8, leg=6.2, lsp=0.25, pad=2.8, xlim=(10340, 10397),
              grid=(10340, 10397), ticks=RIGHT_XTICKS),
}

LEFT_COL_X = [26, 339]
LEFT_W = 260
LEFT_ROW_TOP = [13, 215, 417, 619, 821, 1023]
LEFT_H = 168
RIGHT_COL_X = [655.5, 964]
RIGHT_W = 256.5
RIGHT_ROW_TOP = [20, 219, 417, 616, 815]
RIGHT_H = 165


def draw(x0, top, w, h, label, exp, fd, fx, side):
    st = STYLE[side]
    ax = fig.add_axes([x0 / W, 1 - (top + h) / H, w / W, h / H])
    fd_e, fd_y = zip(*fd)
    fx_e, fx_y = zip(*fx)
    sns.lineplot(x=list(fd_e), y=list(fd_y), ax=ax, color=GREEN, linewidth=st["lw"], label="Fdmnes",
                 estimator=None, errorbar=None, sort=False)
    sns.lineplot(x=list(fx_e), y=list(fx_y), ax=ax, color=BLUE, linewidth=st["lw"], label="Fitrexs",
                 estimator=None, errorbar=None, sort=False)
    e = np.linspace(st["grid"][0], st["grid"][1], len(exp))
    sns.lineplot(x=e, y=exp, ax=ax, color="black", linewidth=0.7, marker="o", markersize=st["ms"],
                 markeredgecolor="black", markeredgewidth=0, estimator=None, errorbar=None, sort=False,
                 legend=False)
    ax.set_xlim(*st["xlim"])
    ax.set_ylim(0, 100)
    ax.set_yticks([])
    ax.set_xticks(st["ticks"])
    ax.set_xticklabels([str(t) for t in st["ticks"]])
    ax.tick_params(axis="x", direction="in", top=True, bottom=True, length=4, width=0.8,
                   labelsize=st["tick"], pad=st["pad"], color="0.3", labelcolor="0.15")
    ax.set_xlabel("")
    ax.set_ylabel(label, fontsize=st["ylab"], color="0.1", labelpad=4)
    for s in ax.spines.values():
        s.set_visible(True)
        s.set_color("0.45")
        s.set_linewidth(1.0)
    leg = ax.legend(loc="upper left", fontsize=st["leg"], frameon=True, fancybox=False, framealpha=1.0,
                    edgecolor="0.35", borderpad=0.4, labelspacing=st["lsp"], handlelength=2.0,
                    handletextpad=0.8, borderaxespad=0.5)
    leg.get_frame().set_linewidth(1.0)
    for t in leg.get_texts():
        t.set_color("0.1")
    return ax


for i, (lab, (exp, fd, fx)) in enumerate(zip(LEFT_LABELS, LEFT_DATA)):
    r, c = divmod(i, 2)
    draw(LEFT_COL_X[c], LEFT_ROW_TOP[r], LEFT_W, LEFT_H, lab, exp, fd, fx, "L")

for i, (lab, (exp, fd, fx)) in enumerate(zip(RIGHT_LABELS, RIGHT_DATA)):
    r, c = divmod(i, 2)
    draw(RIGHT_COL_X[c], RIGHT_ROW_TOP[r], RIGHT_W, RIGHT_H, lab, exp, fd, fx, "R")

fig.savefig("out.png", dpi=100, facecolor="white")
